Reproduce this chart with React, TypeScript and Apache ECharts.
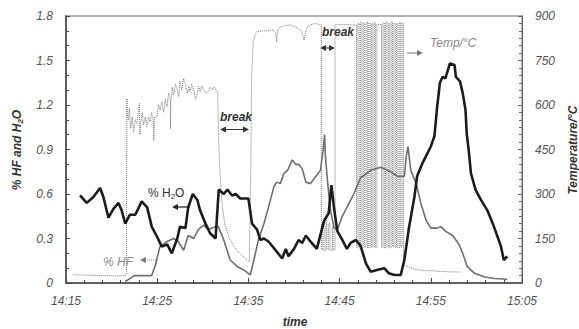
import React, { useEffect, useRef } from "react";
import * as echarts from "echarts";

// time in minutes after 14:15
const xTicks = ["14:15", "14:25", "14:35", "14:45", "14:55", "15:05"];
const leftTicks = ["0", "0.3", "0.6", "0.9", "1.2", "1.5", "1.8"];
const rightTicks = ["0", "150", "300", "450", "600", "750", "900"];

const h2o: [number, number][] = [
  [1.54,0.59],[2.27,0.54],[3.0,0.58],[3.74,0.64],[4.1,0.58],[4.65,0.44],[5.2,0.50],[5.75,0.54],[6.1,0.49],[6.5,0.40],
  [7.0,0.46],[7.6,0.46],[8.3,0.55],[8.9,0.51],[9.4,0.38],[10.0,0.31],[10.5,0.245],[11.1,0.26],[11.6,0.20],[12.2,0.30],
  [12.5,0.38],[13.1,0.37],[13.4,0.51],[13.9,0.60],[14.4,0.56],[14.7,0.49],[15.3,0.40],[15.8,0.335],[16.4,0.30],[16.75,0.63],
  [17.3,0.60],[17.7,0.63],[18.2,0.59],[18.6,0.60],[19.1,0.57],[20.0,0.57],[20.4,0.40],[20.95,0.36],[21.3,0.29],[21.7,0.30],
  [22.2,0.28],[23.0,0.22],[23.7,0.165],[24.1,0.23],[24.4,0.18],[25.0,0.23],[25.5,0.29],[25.9,0.27],[26.3,0.32],[26.8,0.28],
  [27.5,0.23],[28.3,0.42],[28.8,0.47],[29.1,0.66],[29.4,0.50],[29.75,0.35],[30.3,0.29],[30.8,0.23],[31.2,0.27],[31.8,0.29],
  [32.3,0.25],[32.9,0.13],[33.4,0.076],[34.1,0.088],[34.9,0.10],[35.4,0.065],[36.0,0.054],[36.7,0.054],[37.1,0.155],[37.6,0.37],
  [38.2,0.58],[38.5,0.72],[39.1,0.81],[39.6,0.87],[40.0,0.92],[40.4,0.99],[40.7,1.19],[41.0,1.35],[41.3,1.39],[41.6,1.38],
  [41.8,1.42],[42.1,1.48],[42.6,1.47],[42.75,1.39],[43.2,1.36],[43.5,1.28],[43.8,1.17],[43.95,1.0],[44.15,0.9],[44.4,0.74],
  [44.9,0.63],[45.5,0.56],[46.2,0.49],[46.8,0.40],[47.1,0.35],[47.7,0.245],[48.0,0.155],[48.4,0.18]
];

const hf: [number, number][] = [
  [6.5,0.01],[7.0,0.03],[7.5,0.05],[8.5,0.05],[9.4,0.05],[9.8,0.12],[10.3,0.245],[11.1,0.28],[11.8,0.30],[12.3,0.28],
  [12.9,0.22],[13.4,0.32],[14.0,0.30],[14.5,0.36],[15.1,0.39],[15.6,0.36],[16.4,0.38],[16.7,0.38],[17.3,0.29],[18.0,0.155],
  [18.8,0.11],[19.5,0.088],[20.2,0.054],[20.6,0.155],[21.1,0.29],[21.7,0.40],[22.2,0.51],[22.8,0.65],[23.1,0.68],[23.5,0.67],
  [23.9,0.74],[24.3,0.76],[24.8,0.83],[25.2,0.80],[25.5,0.80],[25.9,0.77],[26.3,0.68],[26.8,0.67],[27.4,0.72],[27.9,0.76],
  [28.2,0.90],[28.35,1.0],[28.45,0.85],[28.7,0.67],[29.0,0.49],[29.4,0.37],[29.75,0.36],[30.3,0.45],[30.8,0.51],[31.4,0.58],
  [31.9,0.65],[32.3,0.71],[32.8,0.73],[33.4,0.76],[34.5,0.78],[35.6,0.75],[36.3,0.72],[37.1,0.72],[37.3,0.85],[37.5,0.92],
  [37.8,0.76],[38.4,0.67],[38.9,0.54],[39.5,0.42],[40.0,0.37],[40.7,0.37],[41.1,0.38],[41.6,0.35],[42.4,0.32],[43.1,0.26],
  [43.5,0.20],[44.0,0.11],[44.8,0.065],[45.9,0.04],[47.0,0.03],[48.4,0.025]
];

const temp: [number, number][] = [
  [0.8,28],[2,27],[3,26],[4,25],[5.5,24],[6.5,25],[6.62,30],
  [6.67,622],[6.75,560],[6.85,549],[6.95,590],[7.1,521],[7.25,560],[7.4,510],[7.6,550],[7.77,538],[8.06,605],[8.1,500],[8.2,540],
  [8.35,575],[8.5,533],[8.7,560],[8.87,527],[9.05,560],[9.23,544],[9.4,575],[9.6,538],[9.62,480],[9.7,560],
  [9.96,561],[10.15,600],[10.33,583],[10.5,610],[10.7,575],[10.9,620],[11.06,594],[11.25,640],[11.43,617],[11.45,520],[11.5,612],
  [11.65,660],[11.8,634],[12.0,670],[12.16,656],[12.35,628],[12.5,680],[12.7,650],[12.9,690],[13.08,673],[13.3,640],[13.45,665],
  [13.6,645],[13.8,670],[14.0,651],[14.2,620],[14.36,634],[14.55,662],[14.7,645],[14.9,665],[15.1,651],[15.35,640],[15.6,645],
  [15.8,660],[16.0,651],[16.2,662],[16.37,656],[16.63,639],
  [16.75,470],[16.9,360],[17.1,270],[17.4,200],[17.9,150],[18.6,115],[19.3,92],[20.1,72],[20.25,350],[20.35,680],
  [20.5,800],[20.7,835],[20.95,848],[21.9,850],[22.7,853],[23.0,840],[23.1,813],[23.2,850],[23.5,864],[24.0,868],
  [24.6,870],[25.35,860],[25.8,850],[26.1,819],[26.3,850],[26.45,864],[27.0,872],[27.36,875],[27.9,870],
  [28.0,870],[28.0,112],[28.15,112],[28.15,205],[28.3,205],[28.3,110],[28.5,110],[28.5,210],[28.6,210],[28.6,115],
  [28.8,115],[28.8,200],[28.95,200],[28.95,110],[29.2,110],[29.2,190],[29.3,190],[29.3,112],[29.5,112],[29.5,870],
  [30.5,872],[31.5,870],[31.85,870],
  [31.85,120],[32.0,120],[32.0,875],[32.15,875],[32.15,118],[32.3,118],[32.3,878],[32.45,878],[32.45,120],[32.6,120],
  [32.6,875],[32.75,875],[32.75,122],[32.9,122],[32.9,880],[33.05,880],[33.05,118],[33.2,118],[33.2,876],[33.35,876],
  [33.35,120],[33.5,120],[33.5,874],[33.65,874],[33.65,121],[33.8,121],[33.8,877],[33.95,877],[33.95,119],[34.1,119],
  [34.1,872],[34.6,872],[34.6,120],[34.75,120],[34.75,876],[34.9,876],[34.9,118],[35.05,118],[35.05,878],[35.2,878],
  [35.2,121],[35.35,121],[35.35,875],[35.5,875],[35.5,119],[35.65,119],[35.65,880],[35.8,880],[35.8,122],[35.95,122],
  [35.95,876],[36.1,876],[36.1,120],[36.25,120],[36.25,874],[36.4,874],[36.4,118],[36.55,118],[36.55,878],[36.7,878],
  [36.7,121],[36.85,121],[36.85,875],[37.0,875],[37.0,60],
  [37.3,58],[37.8,50],[38.5,45],[39.6,42],[41.8,38],[43.3,37]
];

const FONT = "Liberation Sans, Arial, sans-serif";

export default function App() {
  const ref = useRef<HTMLDivElement>(null);
  useEffect(() => {
    const chart = echarts.init(ref.current!, null, { renderer: "svg" });
    const labelStyle = { fontFamily: FONT, fontStyle: "italic" as const, fontSize: 12, color: "#555" };
    const arrowHead = (x: number, y: number, dir: number, color: string) => ({
      type: "polygon",
      shape: { points: [[x, y], [x - dir * 6, y - 3], [x - dir * 6, y + 3]] },
      style: { fill: color },
    });
    chart.setOption({
      animation: false,
      backgroundColor: "#fff",
      grid: { left: 66, right: 57, top: 16, bottom: 46, show: true, borderColor: "#999", borderWidth: 1.5 },
      xAxis: {
        type: "value", min: 0, max: 50, interval: 10,
        axisLine: { show: true, lineStyle: { color: "#444", width: 1.5 } },
        axisTick: { show: true, inside: true, length: 5, lineStyle: { color: "#444" } },
        minorTick: { show: true, splitNumber: 5, length: 3, lineStyle: { color: "#444" } },
        splitLine: { show: false },
        axisLabel: { ...labelStyle, margin: 12, formatter: (v: number) => xTicks[Math.round(v / 10)] },
      },
      yAxis: [
        {
          type: "value", min: 0, max: 1.8, interval: 0.3,
          axisLine: { show: true, lineStyle: { color: "#444", width: 1.5 } },
          axisTick: { show: true, inside: true, length: 4, lineStyle: { color: "#444" } },
          minorTick: { show: true, splitNumber: 3, length: 3, lineStyle: { color: "#444" } },
          splitLine: { show: false },
          axisLabel: { ...labelStyle, margin: 13, formatter: (v: number) => leftTicks[Math.round(v / 0.3)] },
        },
        {
          type: "value", min: 0, max: 900, interval: 150, position: "right",
          axisLine: { show: true, lineStyle: { color: "#666", width: 1 } },
          axisTick: { show: true, inside: true, length: 4, lineStyle: { color: "#666" } },
          minorTick: { show: true, splitNumber: 6, length: 3, lineStyle: { color: "#666" } },
          splitLine: { show: false },
          axisLabel: { ...labelStyle, margin: 13, formatter: (v: number) => rightTicks[Math.round(v / 150)] },
        },
      ],
      series: [
        {
          type: "line", yAxisIndex: 1, data: temp, showSymbol: false, z: 1,
          lineStyle: { color: "#777", width: 1, type: "dotted" },
        },
        {
          type: "line", yAxisIndex: 0, data: hf, showSymbol: false, z: 2,
          lineStyle: { color: "#6e6e6e", width: 1.6 },
        },
        {
          type: "line", yAxisIndex: 0, data: h2o, showSymbol: false, z: 3,
          lineStyle: { color: "#1c1c1c", width: 2.6 },
        },
      ],
      graphic: [
        {
          type: "text", x: 17, y: 150, rotation: Math.PI / 2,
          style: {
            text: "{a|% HF and H}{s|2}{a|O}", align: "center", verticalAlign: "middle",
            rich: {
              a: { fontFamily: FONT, fontStyle: "italic", fontWeight: "bold", fontSize: 12, fill: "#333" },
              s: { fontFamily: FONT, fontStyle: "italic", fontWeight: "bold", fontSize: 8, fill: "#333", padding: [6, 0, 0, 0] },
            },
          },
        },
        {
          type: "text", x: 573, y: 150, rotation: Math.PI / 2,
          style: { text: "Temperature/°C", align: "center", verticalAlign: "middle", fontFamily: FONT, fontStyle: "italic", fontWeight: "bold", fontSize: 12, fill: "#333" },
        },
        {
          type: "text", x: 295, y: 322,
          style: { text: "time", align: "center", verticalAlign: "middle", fontFamily: FONT, fontStyle: "italic", fontWeight: "bold", fontSize: 12, fill: "#333" },
        },
        {
          type: "text", x: 236, y: 117,
          style: { text: "break", align: "center", verticalAlign: "middle", fontFamily: FONT, fontStyle: "italic", fontWeight: "bold", fontSize: 12, fill: "#333" },
        },
        { type: "line", shape: { x1: 222, y1: 129.5, x2: 247, y2: 129.5 }, style: { stroke: "#333", lineWidth: 1 } },
        arrowHead(220, 129.5, -1, "#333"),
        arrowHead(249, 129.5, 1, "#333"),
        {
          type: "text", x: 338, y: 32,
          style: { text: "break", align: "center", verticalAlign: "middle", fontFamily: FONT, fontStyle: "italic", fontWeight: "bold", fontSize: 12, fill: "#333" },
        },
        { type: "line", shape: { x1: 322, y1: 48, x2: 333, y2: 48 }, style: { stroke: "#333", lineWidth: 1 } },
        arrowHead(320, 48, -1, "#333"),
        arrowHead(335, 48, 1, "#333"),
        {
          type: "text", x: 430, y: 43,
          style: { text: "Temp/°C", align: "left", verticalAlign: "middle", fontFamily: FONT, fontStyle: "italic", fontSize: 12, fill: "#8a8a8a" },
        },
        { type: "line", shape: { x1: 407, y1: 53, x2: 418, y2: 53 }, style: { stroke: "#777", lineWidth: 1 } },
        arrowHead(423, 53, 1, "#777"),
        {
          type: "text", x: 148, y: 193,
          style: {
            text: "{a|% H}{s|2}{a|O}", align: "left", verticalAlign: "middle",
            rich: {
              a: { fontFamily: FONT, fontSize: 12, fill: "#333" },
              s: { fontFamily: FONT, fontSize: 8, fill: "#333", padding: [6, 0, 0, 0] },
            },
          },
        },
        { type: "line", shape: { x1: 178, y1: 207, x2: 190, y2: 207 }, style: { stroke: "#444", lineWidth: 1.5 } },
        arrowHead(172, 207, -1, "#222"),
        {
          type: "text", x: 103, y: 262,
          style: { text: "% HF", align: "left", verticalAlign: "middle", fontFamily: FONT, fontStyle: "italic", fontSize: 12, fill: "#8a8a8a" },
        },
        arrowHead(140, 260, -1, "#777"),
        { type: "line", shape: { x1: 141, y1: 260, x2: 157, y2: 260 }, style: { stroke: "#888", lineWidth: 1, lineDash: [1, 1] } },
      ],
    });
    return () => chart.dispose();
  }, []);
  return <div ref={ref} style={{ width: 579, height: 329, position: "absolute", left: 0, top: 0 }} />;
}
